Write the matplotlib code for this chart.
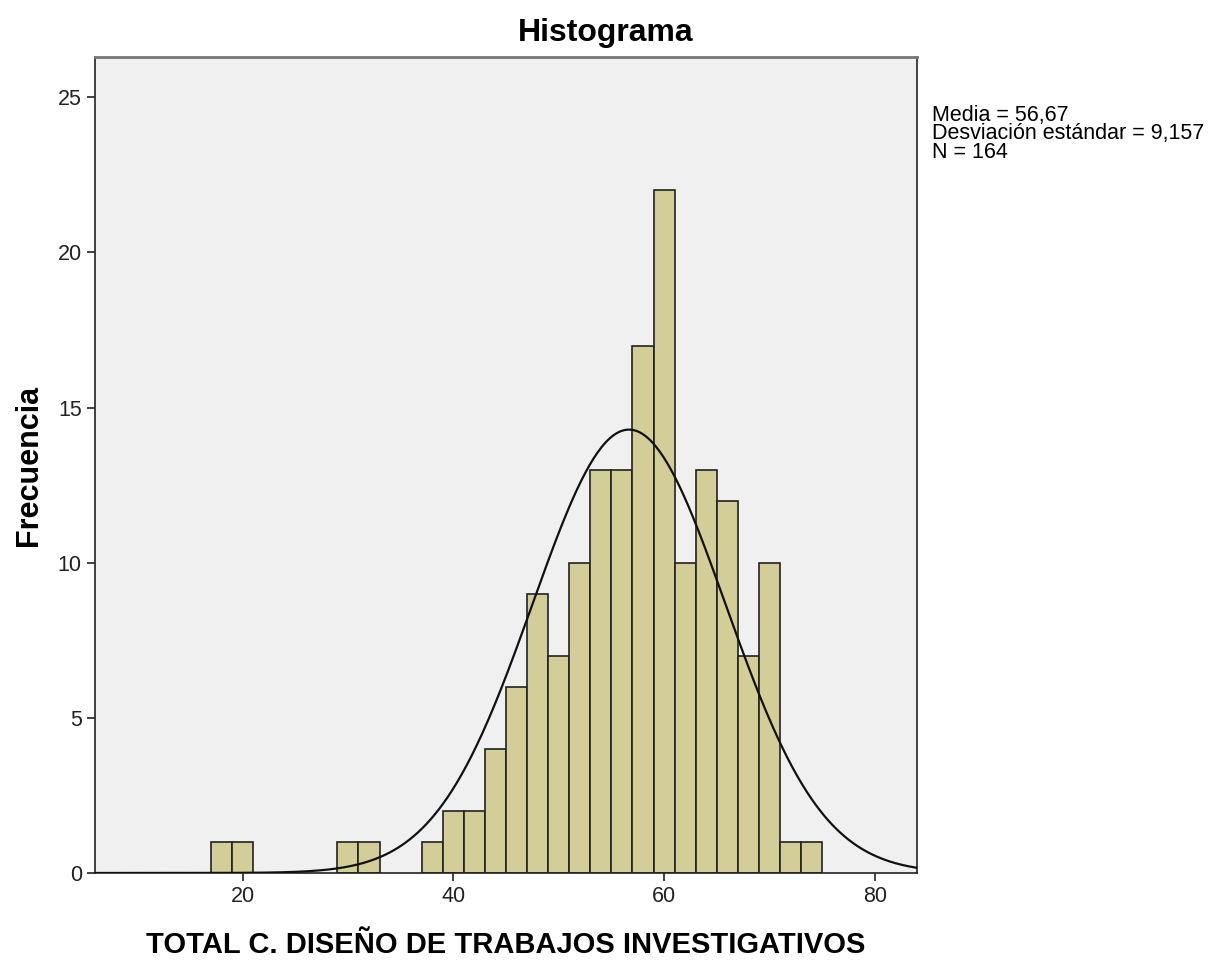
import numpy as np
import matplotlib
matplotlib.use("Agg")
import matplotlib.pyplot as plt

plt.rcParams['font.family'] = ['Liberation Sans', 'DejaVu Sans']

# bins (left edges, width 2) and frequencies
bin_left = [17, 19, 29, 31, 37, 39, 41, 43, 45, 47, 49, 51, 53, 55, 57, 59,
            61, 63, 65, 67, 69, 71, 73]
freq = [1, 1, 1, 1, 1, 2, 2, 4, 6, 9, 7, 10, 13, 13, 17, 22,
        10, 13, 12, 7, 10, 1, 1]
bin_width = 2

media = 56.67
desv = 9.157
n = 164

fig = plt.figure(figsize=(12.12, 9.61), dpi=100)
ax = fig.add_axes([0.0784, 0.0916, 0.6782, 0.8491])
ax.set_facecolor('#F0F0F0')

ax.bar(bin_left, freq, width=bin_width, align='edge', color='#D3CE97',
       edgecolor='#222222', linewidth=1.2, zorder=2)

# normal curve scaled to counts
xs = np.linspace(6, 84, 400)
ys = n * bin_width / (desv * np.sqrt(2 * np.pi)) * np.exp(-0.5 * ((xs - media) / desv) ** 2)
ax.plot(xs, ys, color='#111111', linewidth=1.6, zorder=3)

ax.set_xlim(6.0, 84.0)
ax.set_ylim(0, 26.3)
ax.set_xticks([20, 40, 60, 80])
ax.set_yticks([0, 5, 10, 15, 20, 25])
ax.tick_params(direction='out', length=6, width=1.2, labelsize=15.5, colors='#222222')
for s in ax.spines.values():
    s.set_color('#222222')
    s.set_linewidth(1.2)
ax.spines['top'].set_linewidth(2.0)
ax.spines['top'].set_color('#777777')

fig.text(0.5, 1 - 33 / 961, 'Histograma', fontsize=23, fontweight='bold',
         ha='center', va='center')
ax.set_xlabel('TOTAL C. DISEÑO DE TRABAJOS INVESTIGATIVOS', fontsize=21,
              fontweight='bold', labelpad=17)
ax.set_ylabel('Frecuencia', fontsize=22, fontweight='bold', labelpad=10)

fig.text(0.769, 0.891, 'Media = 56,67\nDesviación estándar = 9,157\nN = 164',
         fontsize=15.5, va='top', ha='left', linespacing=0.85)

fig.savefig('out.png', dpi=100)
